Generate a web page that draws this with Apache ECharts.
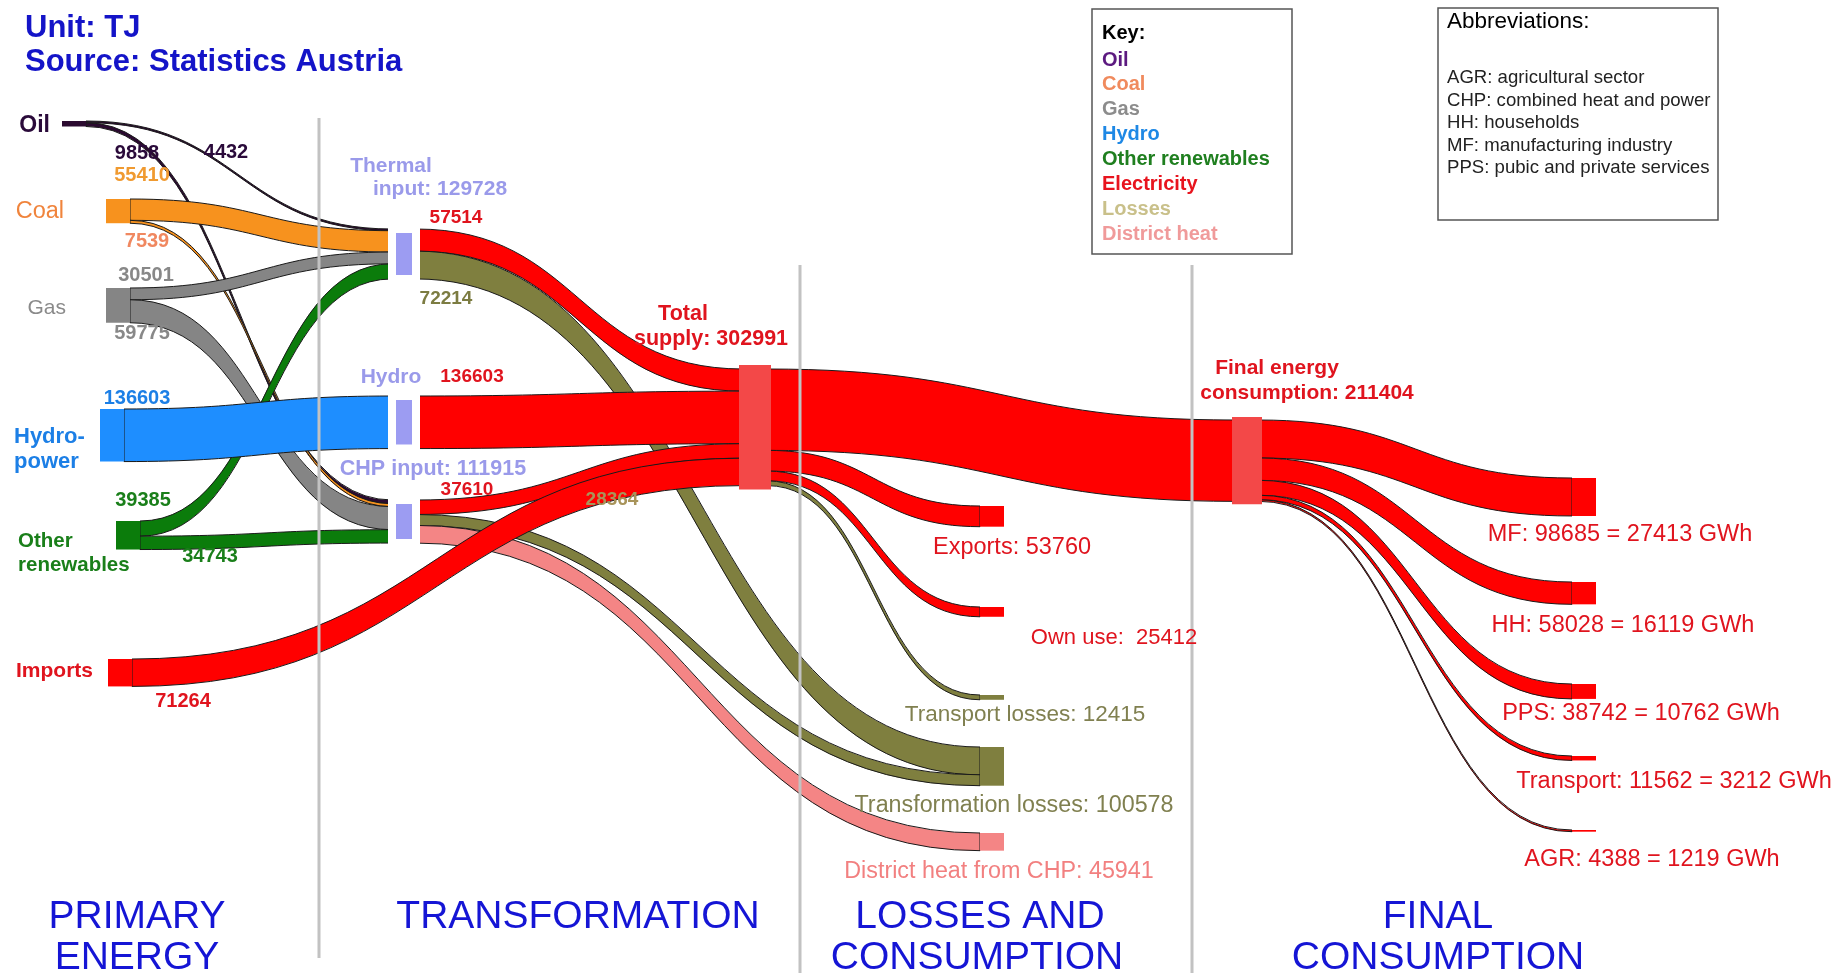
<!DOCTYPE html>
<html><head><meta charset="utf-8">
<script src="https://cdn.jsdelivr.net/npm/echarts@6/dist/echarts.min.js"></script>
<style>html,body{margin:0;padding:0;background:#fff}#chart{width:1845px;height:973px}</style>
</head><body><div id="chart"></div>
<script>
// ---------------- DATA (TJ) ----------------
const primaryNames = ['Oil', 'Coal', 'Gas', 'Hydro-power', 'Other renewables', 'Imports'];
const fuelNames = ['Oil', 'Coal', 'Gas', 'Other renewables'];
const fuelToThermal = [4432, 55410, 30501, 39385];
const fuelToCHP = [9858, 7539, 59775, 34743];
const hydroPower = 136603;
const importsToSupply = 71264;
const thermalTargets = ['Total supply', 'Transformation losses'];
const thermalValues = [57514, 72214];
const chpTargets = ['Total supply', 'Transformation losses', 'District heat from CHP'];
const chpValues = [37610, 28364, 45941];
const supplyTargets = ['Final energy consumption', 'Exports', 'Own use', 'Transport losses'];
const supplyValues = [211404, 53760, 25412, 12415];
const sectorNames = ['MF', 'HH', 'PPS', 'Transport', 'AGR'];
const sectorValues = [98685, 58028, 38742, 11562, 4388];
const sectorGWh = [27413, 16119, 10762, 3212, 1219];
const keyNames = ['Oil', 'Coal', 'Gas', 'Hydro', 'Other renewables', 'Electricity', 'Losses', 'District heat'];
const abbreviations = ['AGR: agricultural sector', 'CHP: combined heat and power', 'HH: households',
  'MF: manufacturing industry', 'PPS: pubic and private services'];

// ---------------- STYLE / LAYOUT ----------------
const W = 1845, H = 973;
const FONT = 'Liberation Sans, Arial, sans-serif';
const carrierColor = {oil: '#2b0a30', coal: '#f7921e', gas: '#858585', hydro: '#1e8eff', renew: '#0b7c0b',
  elec: '#ff0000', loss: '#7f7f3f', heat: '#f48585'};
const carrierOf = {'Oil': 'oil', 'Coal': 'coal', 'Gas': 'gas', 'Other renewables': 'renew', 'Hydro-power': 'hydro',
  'Imports': 'elec', 'Total supply': 'elec', 'Transformation losses': 'loss', 'District heat from CHP': 'heat',
  'Final energy consumption': 'elec', 'Exports': 'elec', 'Own use': 'elec', 'Transport losses': 'loss'};
sectorNames.forEach(n => carrierOf[n] = 'elec');
// node top-left positions in px
const nodePos = {
  'Oil': [62, 121], 'Coal': [106, 199], 'Gas': [106, 288], 'Hydro-power': [100, 409],
  'Other renewables': [116, 521], 'Imports': [108, 659],
  'Thermal input': [392, 229], 'Hydro': [392, 396], 'CHP input': [392, 500],
  'Total supply': [743, 369], 'Transformation losses': [980, 747], 'District heat from CHP': [980, 833],
  'Final energy consumption': [1235, 420], 'Exports': [980, 506], 'Own use': [980, 607], 'Transport losses': [980, 695],
  'MF': [1572, 478], 'HH': [1572, 582], 'PPS': [1572, 684], 'Transport': [1572, 756], 'AGR': [1572, 830]
};
const nodeOrder = primaryNames.concat(['Thermal input', 'Hydro', 'CHP input'], ['Total supply', 'Transformation losses', 'District heat from CHP'], supplyTargets, sectorNames);

function nodeStyle(name) {
  if (['Thermal input', 'Hydro', 'CHP input'].includes(name)) return {color: '#9c9cf2', borderColor: '#ffffff', borderWidth: 8};
  if (name === 'Total supply') return {color: '#f34848', borderColor: '#f34848', borderWidth: 8};
  if (name === 'Final energy consumption') return {color: '#f34848', borderColor: '#f34848', borderWidth: 6};
  return {color: carrierColor[carrierOf[name]], borderWidth: 0};
}
const nodes = nodeOrder.map(n => ({
  name: n, localX: nodePos[n][0] / W, localY: nodePos[n][1] / H, itemStyle: nodeStyle(n)
}));

// ---------------- LINKS from data ----------------
const links = [];
function addLink(s, t, v, c) {
  links.push({source: s, target: t, value: v,
    lineStyle: {color: carrierColor[c], opacity: 1, borderColor: '#1a1a1a', borderWidth: 1}});
}
fuelNames.forEach((f, i) => {
  addLink(f, 'Thermal input', fuelToThermal[i], carrierOf[f]);
  addLink(f, 'CHP input', fuelToCHP[i], carrierOf[f]);
});
addLink('Hydro-power', 'Hydro', hydroPower, 'hydro');
thermalTargets.forEach((t, i) => addLink('Thermal input', t, thermalValues[i], carrierOf[t]));
addLink('Hydro', 'Total supply', hydroPower, 'elec');
chpTargets.forEach((t, i) => addLink('CHP input', t, chpValues[i], carrierOf[t]));
addLink('Imports', 'Total supply', importsToSupply, 'elec');
supplyTargets.forEach((t, i) => addLink('Total supply', t, supplyValues[i], carrierOf[t]));
sectorNames.forEach((t, i) => addLink('Final energy consumption', t, sectorValues[i], 'elec'));

const sum = a => a.reduce((p, q) => p + q, 0);
const thermalInput = sum(fuelToThermal);
const chpInput = sum(fuelToCHP);
const totalSupply = thermalValues[0] + hydroPower + chpValues[0] + importsToSupply;
const transfLosses = thermalValues[1] + chpValues[1];

// ---------------- TEXT ----------------
const RED = '#e0141e', LAV = '#9a9aea', KHAKI = '#7c7c42';
const texts = [];
function T(t, x, y, o) {
  o = o || {};
  texts.push({type: 'text', x: x, y: y, z: 100, silent: true, style: {
    text: String(t), fill: o.c || '#000', align: o.a || 'center', verticalAlign: 'middle',
    font: (o.w || 'normal') + ' ' + (o.s || 20) + 'px ' + FONT}});
}
// header
T('Unit: TJ', 25, 28, {a: 'left', c: '#1414c8', s: 31, w: 'bold'});
T('Source: Statistics Austria', 25, 62, {a: 'left', c: '#1414c8', s: 31, w: 'bold'});
// primary names
T('Oil', 50, 126, {a: 'right', c: '#2a0a3a', s: 23, w: 'bold'});
T('Coal', 64, 212, {a: 'right', c: '#f0843c', s: 23.5});
T('Gas', 66, 308, {a: 'right', c: '#8a8a8a', s: 21});
T('Hydro-', 14, 437, {a: 'left', c: '#1c7fe6', s: 22, w: 'bold'});
T('power', 14, 462, {a: 'left', c: '#1c7fe6', s: 22, w: 'bold'});
T('Other', 18, 541, {a: 'left', c: '#1a7f1a', s: 20.5, w: 'bold'});
T('renewables', 18, 565, {a: 'left', c: '#1a7f1a', s: 20.5, w: 'bold'});
T('Imports', 93, 671, {a: 'right', c: RED, s: 21, w: 'bold'});
// primary values
T(fuelToCHP[0], 137, 153, {c: '#2a0a3a', w: 'bold'});
T(fuelToThermal[0], 226, 152, {c: '#2a0a3a', w: 'bold'});
T(fuelToThermal[1], 142, 175, {c: '#f09a30', w: 'bold'});
T(fuelToCHP[1], 147, 241, {c: '#f08860', w: 'bold'});
T(fuelToThermal[2], 146, 275, {c: '#888', w: 'bold'});
T(fuelToCHP[2], 142, 333, {c: '#888', w: 'bold'});
T(hydroPower, 137, 398, {c: '#1c7fe6', w: 'bold'});
T(fuelToThermal[3], 143, 500, {c: '#1a7f1a', w: 'bold'});
T(fuelToCHP[3], 210, 556, {c: '#1a7f1a', w: 'bold'});
T(importsToSupply, 183, 701, {c: RED, w: 'bold'});
// transformation
T('Thermal', 391, 166, {c: LAV, s: 21, w: 'bold'});
T('input: ' + thermalInput, 440, 189, {c: LAV, s: 21, w: 'bold'});
T(thermalValues[0], 456, 218, {c: RED, s: 19, w: 'bold'});
T(thermalValues[1], 446, 299, {c: KHAKI, s: 19, w: 'bold'});
T('Hydro', 391, 377, {c: LAV, s: 21, w: 'bold'});
T(hydroPower, 472, 377, {c: RED, s: 19, w: 'bold'});
T('CHP input: ' + chpInput, 433, 469, {c: LAV, s: 21.5, w: 'bold'});
T(chpValues[0], 467, 490, {c: RED, s: 19, w: 'bold'});
T(chpValues[1], 612, 500, {c: '#a8945a', s: 19, w: 'bold'});
T('Total', 683, 314, {c: RED, s: 21.5, w: 'bold'});
T('supply: ' + totalSupply, 711, 339, {c: RED, s: 21.5, w: 'bold'});
// losses & consumption
T('Exports: ' + supplyValues[1], 1012, 548, {c: RED, s: 23.5});
T('Own use:  ' + supplyValues[2], 1114, 638, {c: RED, s: 22});
T('Transport losses: ' + supplyValues[3], 1025, 715, {c: '#808050', s: 22.5});
T('Transformation losses: ' + transfLosses, 1014, 806, {c: '#808050', s: 23.3});
T('District heat from CHP: ' + chpValues[2], 999, 872, {c: '#f28080', s: 23.3});
T('Final energy', 1277, 368, {c: RED, s: 21, w: 'bold'});
T('consumption: ' + supplyValues[0], 1307, 393, {c: RED, s: 21, w: 'bold'});
// final sectors
const sectorLabelPos = [[1620, 535], [1623, 626], [1641, 714], [1674, 782], [1652, 860]];
sectorNames.forEach((n, i) => T(n + ': ' + sectorValues[i] + ' = ' + sectorGWh[i] + ' GWh',
  sectorLabelPos[i][0], sectorLabelPos[i][1], {c: RED, s: 23.5}));
// section headings
const HB = '#1515d5';
T('PRIMARY', 137, 917, {c: HB, s: 39}); T('ENERGY', 137, 958, {c: HB, s: 39});
T('TRANSFORMATION', 578, 917, {c: HB, s: 39});
T('LOSSES AND', 980, 917, {c: HB, s: 39}); T('CONSUMPTION', 977, 958, {c: HB, s: 39});
T('FINAL', 1438, 917, {c: HB, s: 39}); T('CONSUMPTION', 1438, 958, {c: HB, s: 39});
// key
const keyColors = ['#5c1a80', '#f08a5d', '#8c8c8c', '#1e88e5', '#1f7f1f', '#e8141e', '#c9c08a', '#f09a9a'];
T('Key:', 1102, 33, {a: 'left', s: 20, w: 'bold'});
keyNames.forEach((k, i) => T(k, 1102, 60 + i * 24.9, {a: 'left', c: keyColors[i], s: 20, w: 'bold'}));
T('Abbreviations:', 1447, 22, {a: 'left', s: 22.5});
abbreviations.forEach((k, i) => T(k, 1447, 78 + i * 22.5, {a: 'left', c: '#222', s: 18.6}));

const boxes = [
  {type: 'rect', z: 90, silent: true, shape: {x: 1092, y: 9, width: 200, height: 245}, style: {fill: '#fff', stroke: '#555', lineWidth: 1.5}},
  {type: 'rect', z: 90, silent: true, shape: {x: 1438, y: 8, width: 280, height: 212}, style: {fill: '#fff', stroke: '#555', lineWidth: 1.5}}
];
const sepLines = [[319, 118, 958], [800, 265, 973], [1192, 265, 973]].map(l => ({
  type: 'line', z: 95, silent: true, shape: {x1: l[0], y1: l[1], x2: l[0], y2: l[2]},
  style: {stroke: '#c2c2c2', lineWidth: 3}}));

const chart = echarts.init(document.getElementById('chart'), null, {renderer: 'canvas'});
chart.setOption({
  backgroundColor: '#ffffff',
  animation: false,
  series: [{
    type: 'sankey',
    left: 0, top: 0, right: 0, bottom: 0,
    nodeWidth: 24,
    nodeGap: 160,
    nodeAlign: 'left',
    layoutIterations: 0,
    draggable: false,
    emphasis: {disabled: true},
    label: {show: false},
    lineStyle: {curveness: 0.5, opacity: 1},
    data: nodes,
    links: links
  }],
  graphic: boxes.concat(sepLines, texts)
});
</script></body></html>
